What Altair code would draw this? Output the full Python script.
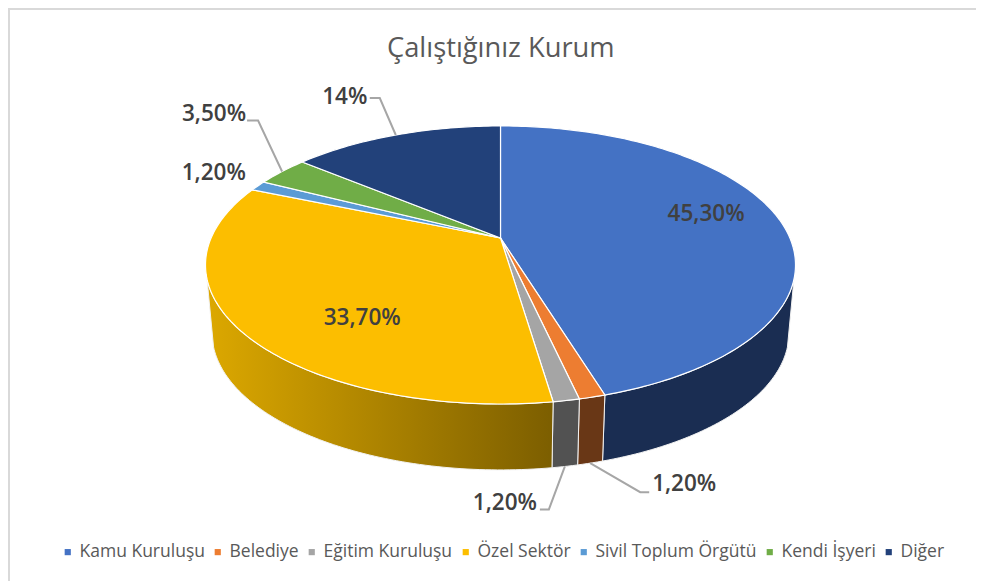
import math
import altair as alt
import pandas as pd

# ---- data ----
categories = ["Kamu Kuruluşu", "Belediye", "Eğitim Kuruluşu", "Özel Sektör",
              "Sivil Toplum Örgütü", "Kendi İşyeri", "Diğer"]
values = [45.3, 1.2, 1.2, 33.7, 1.2, 3.5, 14.0]
value_labels = ["45,30%", "1,20%", "1,20%", "33,70%", "1,20%", "3,50%", "14%"]
top_colors = ["#4472C4", "#ED7D31", "#A5A5A5", "#FCBE00", "#5B9BD5", "#70AD47", "#22417A"]
title_text = "Çalıştığınız Kurum"

# ---- layout (page pixels) ----
PROJ = dict(type="identity", scale=1, translate=[-8, -8])
K = 0.194                     # perspective of the tilted disc
TOP = dict(cx=500.5, cy=238.0, a=289.4, b=133.8)
BOT = dict(cx=500.5, cy=306.4, a=283.0, b=131.8)
FRONT = (0.297, 0.703)        # part of the rim that shows as a wall
WALLS = {
    "Kamu Kuruluşu": "#1A2D52",
    "Belediye": "#693716",
    "Eğitim Kuruluşu": "#525252",
    "Özel Sektör": alt.Gradient(
        gradient="linear", x1=0, x2=1, y1=0, y2=0,
        stops=[alt.GradientStop(color="#DCA800", offset=0),
               alt.GradientStop(color="#7C5E00", offset=1)]),
}
# label placement relative to each slice's anchor: (surface, label dx or radius, dy, leader elbow+end)
PLACE = {
    "Kamu Kuruluşu": ("in", 0.739, -10, None),
    "Belediye": ("bot", 94, 21, [(50, 29), (59, 29)]),
    "Eğitim Kuruluşu": ("bot", -60, 37, [(-16, 43), (-25, 43)]),
    "Özel Sektör": ("in", 0.533, 30, None),
    "Sivil Toplum Örgütü": ("top", -44, -13, None),
    "Kendi İşyeri": ("top", -68, -58, [(-24, -51), (-35, -51)]),
    "Diğer": ("top", -51, -38, [(-16, -37), (-26, -37)]),
}


def project(frac, surf):
    ang = 2 * math.pi * frac
    u, v = math.sin(ang), math.cos(ang)
    d = 1 + K * v
    return [surf["cx"] + surf["a"] * u / d, surf["cy"] - surf["b"] * v / d]


def arc(f0, f1, surf):
    n = max(2, int((f1 - f0) * 360) + 2)
    return [project(f0 + (f1 - f0) * i / (n - 1), surf) for i in range(n)]


total = sum(values)
edges = [0.0]
for val in values:
    edges.append(edges[-1] + val / total)

faces, walls = [], {}
for name, f0, f1 in zip(categories, edges[:-1], edges[1:]):
    hub = [TOP["cx"], TOP["cy"]]
    faces.append({"type": "Feature", "properties": {"name": name},
                  "geometry": {"type": "Polygon", "coordinates": [[hub] + arc(f0, f1, TOP) + [hub]]}})
    if name in WALLS:
        w0, w1 = max(f0, FRONT[0]), min(f1, FRONT[1])
        top_edge = arc(w0, w1, TOP)
        ring = top_edge + arc(w0, w1, BOT)[::-1] + [top_edge[0]]
        walls[name] = {"type": "Feature", "properties": {"name": name},
                       "geometry": {"type": "Polygon", "coordinates": [ring]}}

label_rows, leader_rows = [], []
for i, name in enumerate(categories):
    mid = (edges[i] + edges[i + 1]) / 2
    kind, p1, p2, elbow = PLACE[name]
    if kind == "in":
        ax, ay = project(mid, dict(TOP, a=TOP["a"] * p1, b=TOP["b"] * p1))
        label_rows.append({"lon": ax, "lat": ay + p2, "txt": value_labels[i]})
        continue
    ax, ay = project(mid, BOT if kind == "bot" else TOP)
    label_rows.append({"lon": ax + p1, "lat": ay + p2, "txt": value_labels[i]})
    if elbow:
        pts = [(0, 0)] + elbow
        for j, (dx, dy) in enumerate(pts):
            leader_rows.append({"lon": ax + dx, "lat": ay + dy, "id": name, "ord": j})

frame = {"type": "Feature", "properties": {},
         "geometry": {"type": "LineString",
                      "coordinates": [[9, 581], [9, 9], [984, 9]]}}


def geo(features):
    return alt.Data(values={"type": "FeatureCollection", "features": features},
                    format=alt.DataFormat(type="json", property="features"))


layers = [alt.Chart(geo([frame])).mark_geoshape(filled=False, stroke="#D9D9D9", strokeWidth=2)
          .project(**PROJ)]
for name, fill in WALLS.items():
    layers.append(alt.Chart(geo([walls[name]]))
                  .mark_geoshape(fill=fill, stroke="#F2F2F2", strokeWidth=1)
                  .project(**PROJ))

layers.append(
    alt.Chart(geo(faces)).mark_geoshape(stroke="white", strokeWidth=1.2).encode(
        color=alt.Color(
            "properties.name:N", title=None,
            scale=alt.Scale(domain=categories, range=top_colors),
            legend=alt.Legend(
                orient="none", legendX=51, legendY=535, direction="horizontal", columns=7,
                symbolType="square", symbolSize=38, symbolStrokeWidth=0,
                labelFont="Open Sans", labelFontSize=17.5, labelColor="#595959", labelLimit=300,
                labelOffset=3, columnPadding=4, padding=0,
            ),
        )
    ).project(**PROJ)
)
layers.append(
    alt.Chart(pd.DataFrame(leader_rows)).mark_line(color="#A6A6A6", strokeWidth=2).encode(
        longitude="lon:Q", latitude="lat:Q", detail="id:N", order="ord:Q"
    ).project(**PROJ)
)
layers.append(
    alt.Chart(pd.DataFrame(label_rows)).mark_text(
        font="Open Sans", fontSize=22.5, fontWeight=600, color="#404040", align="center", baseline="middle"
    ).encode(longitude="lon:Q", latitude="lat:Q", text="txt:N").project(**PROJ)
)

chart = alt.layer(*layers).properties(
    width=968, height=573,
    title=alt.TitleParams(title_text, font="Open Sans", fontSize=27.3, fontWeight="normal",
                          color="#595959", anchor="start", offset=-54, dx=379),
    padding=0,
    autosize=alt.AutoSizeParams(type="none"),
    background="white",
).configure_view(stroke=None)

chart.save("out.html", embed_options={"renderer": "svg", "actions": False})
